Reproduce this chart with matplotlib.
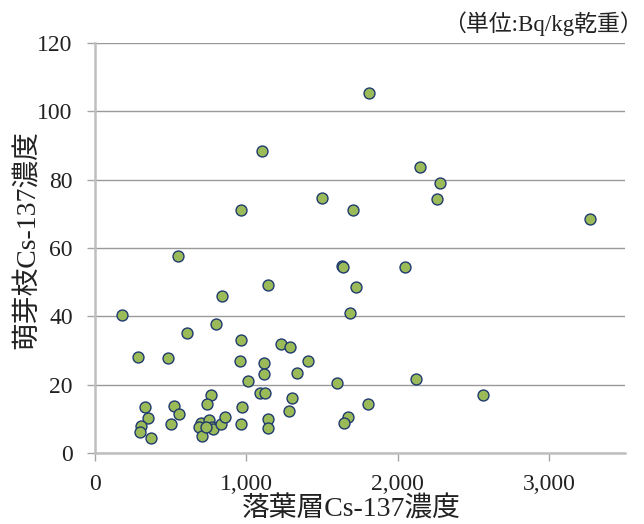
import matplotlib
matplotlib.use('Agg')
import matplotlib.pyplot as plt
from matplotlib.ticker import FuncFormatter

plt.rcParams['font.family'] = ['Liberation Serif', 'Noto Sans CJK JP']

# 落葉層Cs-137濃度 (x) と 萌芽枝Cs-137濃度 (y), Bq/kg乾重
litter = [179, 284, 480, 611, 797, 836, 1140, 965, 960, 1120, 1120, 1011,
          1229, 1288, 1410, 1336, 1596, 2124, 1299, 1281, 1801, 1672, 1644,
          764, 738, 971, 1092, 1124, 330, 351, 306, 295, 371, 519, 557, 502,
          699, 688, 753, 709, 775, 781, 736, 830, 860, 963, 1146, 1142,
          1105, 965, 1498, 550, 1633, 1640, 1810, 2146, 2277, 2257, 1705,
          3268, 2050, 1727, 1688, 2561]
sprout = [40.3, 28.0, 27.7, 35.2, 37.7, 45.9, 49.1, 33.1, 26.8, 26.2, 23.1, 21.2,
          31.9, 31.1, 27.0, 23.5, 20.6, 21.7, 16.0, 12.4, 14.3, 10.5, 8.9,
          17.0, 14.3, 13.6, 17.6, 17.6, 13.4, 10.3, 7.9, 6.1, 4.5, 13.8, 11.4, 8.5,
          8.7, 7.5, 9.7, 5.0, 7.5, 6.9, 7.7, 8.4, 10.6, 8.4, 9.9, 7.2,
          88.5, 71.2, 74.7, 57.7, 54.8, 54.3, 105.4, 83.6, 79.1, 74.3, 71.1,
          68.6, 54.5, 48.7, 40.9, 17.0]

x_ticks = [0, 1000, 2000, 3000]
y_ticks = [0, 20, 40, 60, 80, 100, 120]

fig = plt.figure(figsize=(6.44, 5.24), dpi=100)
ax = fig.add_axes([0.1475, 0.1355, 0.8225, 0.7825])

ax.scatter(litter, sprout, s=62, c='#9bbb59', edgecolors='#1f3a6e',
           linewidths=1.0, zorder=3)

ax.set_xlim(0, 3500)
ax.set_ylim(0, 120)
ax.set_xticks(x_ticks)
ax.set_yticks(y_ticks)
ax.xaxis.set_major_formatter(FuncFormatter(lambda v, p: f'{int(v):,}'))
ax.grid(True, axis='y', color='#999999', linewidth=1.0, zorder=0)

for s in ['top', 'right']:
    ax.spines[s].set_visible(False)
for s in ['left', 'bottom']:
    ax.spines[s].set_color('#bfbfbf')
    ax.spines[s].set_linewidth(1.8)

ax.tick_params(axis='both', colors='#a6a6a6', length=6, width=1.0,
               labelcolor='#222222', labelsize=17)
ax.tick_params(axis='x', pad=9)
ax.tick_params(axis='y', pad=10)

ax.set_xlabel('落葉層Cs-137濃度', fontsize=20, color='#222222')
ax.set_ylabel('萌芽枝Cs-137濃度', fontsize=20, color='#222222')
ax.xaxis.set_label_coords(0.483, -0.138)
ax.yaxis.set_label_coords(-0.126, 0.52)
ax.xaxis.label.set_va('center')
ax.yaxis.label.set_va('center')

fig.text(0.998, 0.955, '（単位:Bq/kg乾重）', ha='right', va='center',
         fontsize=16.5, color='#222222')

plt.savefig('out.png', dpi=100)
plt.close()
